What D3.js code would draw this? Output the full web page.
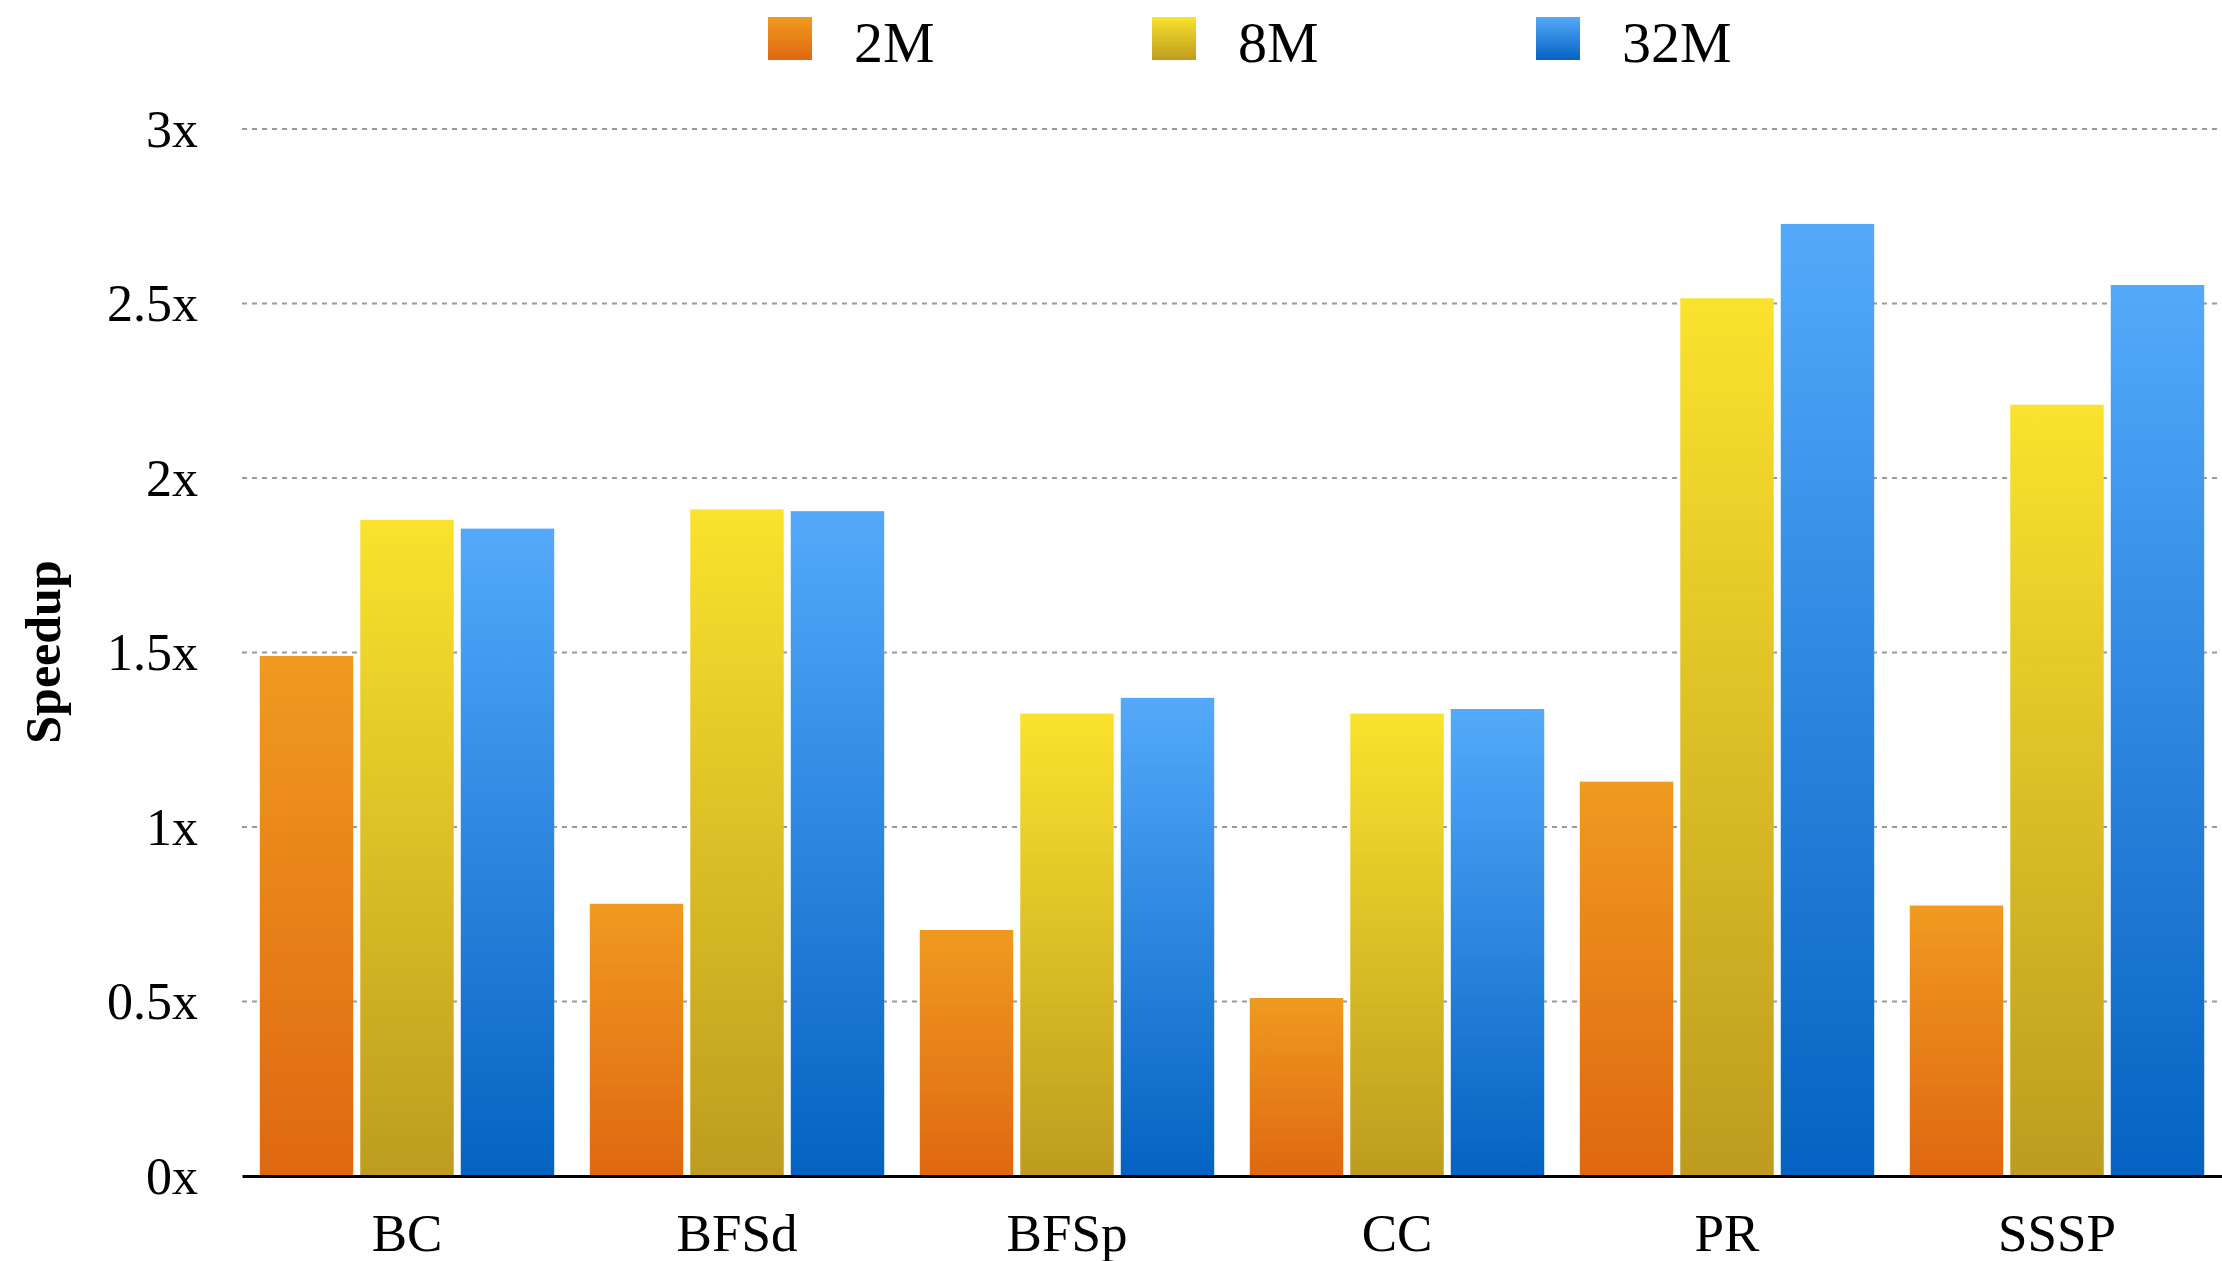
<!DOCTYPE html>
<html>
<head>
<meta charset="utf-8">
<script src="https://cdn.jsdelivr.net/npm/d3@7"></script>
<style>
  body { margin: 0; background: #fff; }
  svg { display: block; }
</style>
</head>
<body>
<div id="chart-area"></div>
<script>
// data
var categories = ["BC", "BFSd", "BFSp", "CC", "PR", "SSSP"]
var seriesNames = ["2M", "8M", "32M"]
var values2M  = [1.49, 0.78, 0.705, 0.51, 1.13, 0.775]
var values8M  = [1.88, 1.91, 1.325, 1.325, 2.515, 2.21]
var values32M = [1.855, 1.905, 1.37, 1.338, 2.728, 2.553]
var yTicks = [0, 0.5, 1, 1.5, 2, 2.5, 3]

var allSeries = [values2M, values8M, values32M]

// gradient stops per series (top, bottom)
var gradColors = [
    ["#f09a20", "#df6811"],
    ["#fae22d", "#bd9c1f"],
    ["#54a9fa", "#0463c2"]
]

var cw = 2222
var ch = 1261
var m = {l: 242, t: 129, r: 0, b: 85}
var w = cw - m.l - m.r
var h = ch - m.t - m.b

var svg = d3.select("#chart-area").append("svg")
    .attr("width", cw)
    .attr("height", ch)

var defs = svg.append("defs")
gradColors.forEach((c, i) => {
    var lg = defs.append("linearGradient")
        .attr("id", "grad" + i)
        .attr("x1", 0).attr("y1", 0)
        .attr("x2", 0).attr("y2", 1)
    lg.append("stop").attr("offset", "0%").attr("stop-color", c[0])
    lg.append("stop").attr("offset", "100%").attr("stop-color", c[1])
})

var g = svg.append("g").attr("transform", "translate(" + m.l + ", " + m.t + ")")

var x = d3.scaleBand()
    .domain(categories)
    .range([0, w])
    .padding(0)

var xInner = d3.scaleBand()
    .domain(seriesNames)
    .range([0, x.bandwidth()])
    .paddingInner(0.07)
    .paddingOuter(0.177)

var y = d3.scaleLinear()
    .domain([0, 3])
    .range([h, 0])

// gridlines
g.selectAll(".grid")
    .data(yTicks.filter(d => d > 0))
    .enter()
    .append("line")
    .attr("class", "grid")
    .attr("x1", 0)
    .attr("x2", w)
    .attr("y1", d => y(d))
    .attr("y2", d => y(d))
    .attr("stroke", "#9a9a9a")
    .attr("stroke-width", 2)
    .attr("stroke-dasharray", "5,5")

// bars
var rows = categories.map((c, i) => ({
    cat: c,
    vals: seriesNames.map((s, j) => ({series: s, idx: j, value: allSeries[j][i]}))
}))

var groups = g.selectAll(".group")
    .data(rows)
    .enter()
    .append("g")
    .attr("class", "group")
    .attr("transform", d => "translate(" + x(d.cat) + ",0)")

groups.selectAll("rect")
    .data(d => d.vals)
    .enter()
    .append("rect")
    .attr("x", d => xInner(d.series))
    .attr("y", d => y(d.value))
    .attr("width", xInner.bandwidth())
    .attr("height", d => h - y(d.value))
    .attr("fill", d => "url(#grad" + d.idx + ")")

// axes
var leftAxis = d3.axisLeft(y)
    .tickValues(yTicks)
    .tickSize(0)
    .tickPadding(44)
    .tickFormat(d => d + "x")

var yAxisGroup = g.append("g")
    .attr("class", "left axis")
    .call(leftAxis)
yAxisGroup.select(".domain").remove()
yAxisGroup.selectAll("text")
    .attr("font-family", "'Liberation Serif', 'Times New Roman', serif")
    .attr("font-size", "52px")
    .attr("fill", "#000")
    .attr("dy", "0.33em")

var bottomAxis = d3.axisBottom(x)
    .tickSize(0)
    .tickPadding(0)

var xAxisGroup = g.append("g")
    .attr("class", "bottom axis")
    .attr("transform", "translate(0, " + h + ")")
    .call(bottomAxis)
xAxisGroup.select(".domain")
    .attr("stroke", "#000")
    .attr("stroke-width", 3)
xAxisGroup.selectAll("text")
    .attr("font-family", "'Liberation Serif', 'Times New Roman', serif")
    .attr("font-size", "53px")
    .attr("fill", "#000")
    .attr("y", 75)
    .attr("dy", 0)

// y label
svg.append("text")
    .attr("transform", "translate(60, 652) rotate(-90)")
    .attr("text-anchor", "middle")
    .attr("font-family", "'Liberation Serif', 'Times New Roman', serif")
    .attr("font-weight", "bold")
    .attr("font-size", "50px")
    .text("Speedup")

// legend
var legend = svg.append("g")
    .attr("class", "legend")
    .attr("transform", "translate(768, 17)")

var legendItems = legend.selectAll(".legend-item")
    .data(seriesNames)
    .enter()
    .append("g")
    .attr("class", "legend-item")
    .attr("transform", (d, i) => "translate(" + (i * 384) + ", 0)")

legendItems.append("rect")
    .attr("width", 44)
    .attr("height", 43)
    .attr("fill", (d, i) => "url(#grad" + i + ")")

legendItems.append("text")
    .attr("x", 86)
    .attr("y", 45)
    .attr("font-family", "'Liberation Serif', 'Times New Roman', serif")
    .attr("font-size", "58px")
    .text(d => d)
</script>
</body>
</html>
